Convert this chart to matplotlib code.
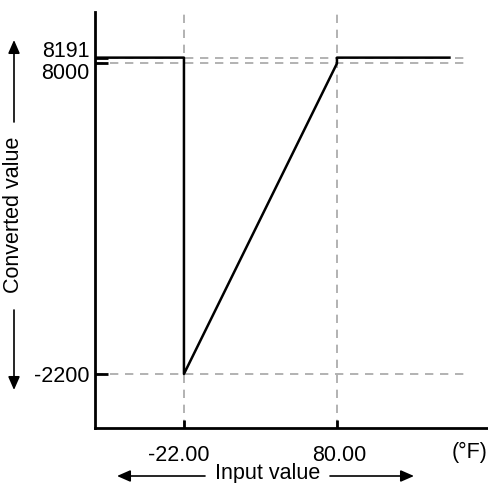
import matplotlib.pyplot as plt
from matplotlib.transforms import ScaledTranslation

plt.rcParams['font.family'] = ['Liberation Sans', 'DejaVu Sans']

# conversion curve (input degF -> converted value)
input_vals = [-81, -22, -22, 80, 80, 155]
output_vals = [8191, 8191, -2200, 8000, 8191, 8191]

x_ticks = [-22, 80]
x_labels = ['-22.00', '80.00']
y_ticks = [8191, 8000, -2200]
y_labels = ['8191', '8000', '-2200']

fig = plt.figure(figsize=(4.88, 4.83), dpi=100)
ax = fig.add_axes([95 / 488, 55 / 483, 393 / 488, 416 / 483])
ax.set_xlim(-81.3, 180.7)
ax.set_ylim(-3975, 9690)

grid = dict(color='#a6a6a6', linestyle=(0, (5, 4)), linewidth=1.2, zorder=1)
for v in y_ticks:
    ax.plot([-81.3, 168], [v, v], **grid)
for v in x_ticks:
    ax.axvline(v, **grid)

ax.plot(input_vals, output_vals, color='black', linewidth=1.8, zorder=3)

for side in ['top', 'right']:
    ax.spines[side].set_visible(False)
for side in ['left', 'bottom']:
    ax.spines[side].set_linewidth(2)

ax.set_xticks(x_ticks, x_labels)
ax.set_yticks(y_ticks, y_labels)
ax.tick_params(direction='in', length=9, width=2, labelsize=15.5, pad=4)
ax.tick_params(axis='x', length=6, pad=12)

# spread the two close labels apart
shifts = {'8191': 8.5, '8000': -7.5}
for lab in ax.get_yticklabels():
    dy = shifts.get(lab.get_text(), 0)
    lab.set_transform(lab.get_transform() + ScaledTranslation(0, dy / 100, fig.dpi_scale_trans))
for lab in ax.get_xticklabels():
    dx = -5 if lab.get_text().startswith('-') else 2
    lab.set_transform(lab.get_transform() + ScaledTranslation(dx / 100, 0, fig.dpi_scale_trans))

fig.text(470 / 488, 1 - 452 / 483, '(°F)', fontsize=15.5, ha='center', va='center')

# axis captions with arrows
fig.text(14 / 488, 1 - 215 / 483, 'Converted value', fontsize=15.5, rotation=90,
         ha='center', va='center')
fig.text(268 / 488, 1 - 474 / 483, 'Input value', fontsize=15.5, ha='center', va='center')

arrow = dict(arrowstyle='-|>,head_length=0.8,head_width=0.35', color='black', lw=1.2,
             shrinkA=0, shrinkB=0)
H = 483
ax.annotate('', xy=(14, H - 40), xytext=(14, H - 122), xycoords='figure pixels',
            textcoords='figure pixels', arrowprops=arrow)
ax.annotate('', xy=(14, H - 390), xytext=(14, H - 310), xycoords='figure pixels',
            textcoords='figure pixels', arrowprops=arrow)
ax.annotate('', xy=(117, H - 476), xytext=(205, H - 476), xycoords='figure pixels',
            textcoords='figure pixels', arrowprops=arrow)
ax.annotate('', xy=(414, H - 476), xytext=(330, H - 476), xycoords='figure pixels',
            textcoords='figure pixels', arrowprops=arrow)

fig.savefig('out.png', dpi=100)
